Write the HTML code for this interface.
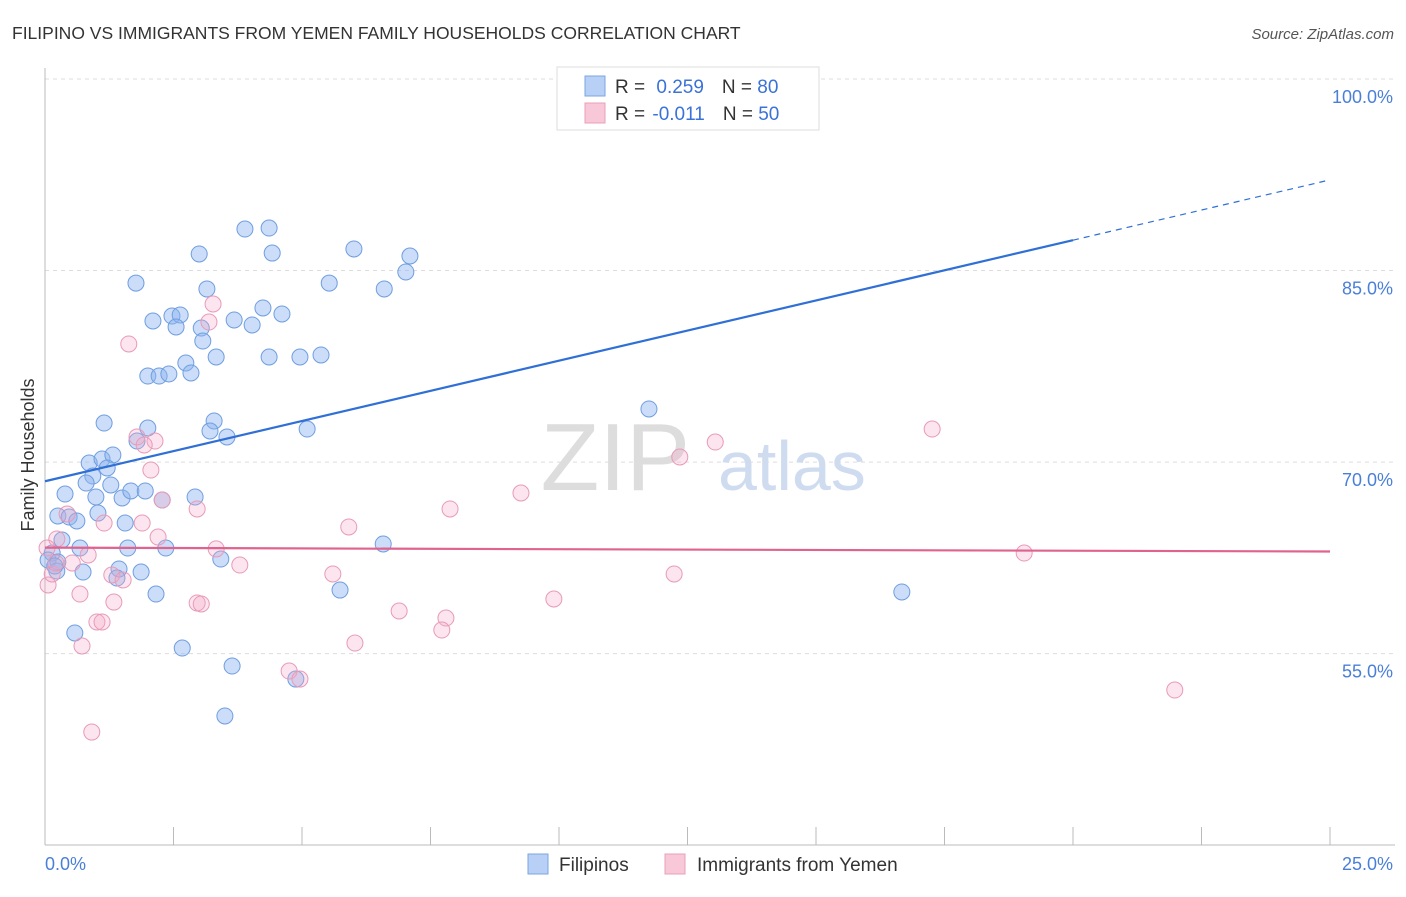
<!DOCTYPE html>
<html><head><meta charset="utf-8"><style>
body{margin:0;background:#fff;font-family:"Liberation Sans",sans-serif;}
svg text{font-family:"Liberation Sans",sans-serif;}
</style></head><body>
<svg id="chart" width="1406" height="892" viewBox="0 0 1406 892">
<text x="12" y="39" font-size="17.5" fill="#333">FILIPINO VS IMMIGRANTS FROM YEMEN FAMILY HOUSEHOLDS CORRELATION CHART</text>
<text x="1394" y="39" font-size="15" fill="#555" font-style="italic" text-anchor="end">Source: ZipAtlas.com</text>
<g id="grid"></g>
<text x="690" y="490" font-size="96" fill="#ddd" text-anchor="end" font-family="Liberation Serif">ZIP</text>
<text x="718" y="490" font-size="70" fill="#cfdcf0">atlas</text>
<g id="axes"></g>
<g id="pts"></g>
<g id="lines"></g>
<text transform="translate(34,455) rotate(-90)" font-size="18" fill="#333" text-anchor="middle">Family Households</text>
<text x="45" y="870" font-size="18" fill="#4a7fd8">0.0%</text>
<text x="1393" y="870" font-size="18" fill="#4a7fd8" text-anchor="end">25.0%</text>
<g>
<rect x="557" y="67" width="262" height="63" fill="#fff" stroke="#ddd"/>
<rect x="585" y="76" width="20" height="20" fill="#b8d0f5" stroke="#7aa6e0"/>
<rect x="585" y="103" width="20" height="20" fill="#f9c8d8" stroke="#e8a0ba"/>
<text x="615" y="93" font-size="19" fill="#333">R = <tspan fill="#3a72d8" dx="6">0.259</tspan><tspan dx="18" fill="#333">N = </tspan><tspan fill="#3a72d8">80</tspan></text>
<text x="615" y="120" font-size="19" fill="#333">R = <tspan fill="#3a72d8" dx="2">-0.011</tspan><tspan dx="18" fill="#333">N = </tspan><tspan fill="#3a72d8">50</tspan></text>
</g>
<g>
<rect x="528" y="854" width="20" height="20" fill="#b8d0f5" stroke="#7aa6e0"/>
<text x="559" y="871" font-size="19" fill="#333">Filipinos</text>
<rect x="665" y="854" width="20" height="20" fill="#f9c8d8" stroke="#e8a0ba"/>
<text x="697" y="871" font-size="19" fill="#333">Immigrants from Yemen</text>
</g>
</svg>
<script>
const yTicks=[100,85,70,55];
const yTickLabels=["100.0%","85.0%","70.0%","55.0%"];
const xTicks=[2.5,5,7.5,10,12.5,15,17.5,20,22.5,25];
const blueX=[3.89,4.36,3.00,4.42,6.01,7.10,1.77,5.53,3.15,6.60,7.02,4.24,4.61,2.10,2.47,2.63,2.55,3.04,3.68,4.03,3.07,3.33,4.36,4.96,5.37,2.74,2.00,2.22,2.41,2.84,1.15,2.00,3.29,3.21,3.54,5.10,1.79,11.75,0.86,1.11,1.32,1.21,0.93,0.80,1.28,0.39,0.99,1.50,1.67,1.95,2.28,2.92,0.25,0.47,0.62,1.03,1.56,0.33,0.68,1.61,2.35,0.14,0.06,0.25,0.23,0.74,0.19,3.42,1.44,1.87,1.40,2.16,5.74,6.58,16.67,0.58,2.67,3.64,4.88,3.50];
const blueY=[88.25,88.33,86.30,86.37,86.69,86.14,84.02,84.02,83.56,83.56,84.89,82.07,81.60,81.05,81.44,81.52,80.58,80.50,81.13,80.74,79.48,78.23,78.23,78.23,78.39,77.76,76.74,76.74,76.90,76.98,73.06,72.67,73.22,72.44,71.97,72.59,71.65,74.16,69.93,70.24,70.56,69.54,68.91,68.36,68.21,67.50,67.27,67.19,67.74,67.74,67.03,67.27,65.78,65.70,65.39,66.01,65.23,63.90,63.27,63.27,63.27,62.88,62.33,62.18,61.47,61.39,61.86,62.41,61.63,61.39,60.92,59.67,59.98,63.59,59.83,56.62,55.44,54.03,53.01,50.12];
const pinkX=[1.63,3.27,3.19,1.79,2.14,1.93,2.06,2.28,2.96,1.15,1.89,2.20,0.43,0.23,0.84,3.33,5.91,7.88,9.26,12.35,13.04,17.26,19.05,3.79,5.60,1.30,1.52,12.24,1.34,0.68,2.96,3.04,9.90,6.89,7.80,7.72,1.01,1.11,6.03,0.72,4.75,4.96,21.98,0.91,0.06,0.14,0.21,0.53,0.04];
const pinkY=[79.25,82.38,80.97,71.97,71.65,71.34,69.38,67.03,66.33,65.23,65.23,64.13,65.94,63.98,62.73,63.20,64.92,66.33,67.58,70.40,71.57,72.59,62.88,61.94,61.24,61.16,60.77,61.24,59.04,59.67,58.97,58.89,59.28,58.34,57.79,56.85,57.48,57.48,55.83,55.60,53.64,53.01,52.15,48.86,60.38,61.24,62.10,62.10,63.27];
const blueTrend=[68.5,92.1];
const blueSolidEnd=20;
const pinkTrend=[63.3,63.0];
const NS="http://www.w3.org/2000/svg";
const X=v=>45+v*51.4, Y=v=>79+(100-v)*12.77;
function mk(t,a,p){const e=document.createElementNS(NS,t);for(const k in a)e.setAttribute(k,a[k]);p.appendChild(e);return e;}
const grid=document.getElementById('grid'),axes=document.getElementById('axes'),pts=document.getElementById('pts'),lines=document.getElementById('lines');
yTicks.forEach((v,i)=>{
const l=mk('line',{x1:45,x2:1395,y1:Y(v),y2:Y(v),stroke:'#ddd','stroke-dasharray':'4,4'},grid);


const t=mk('text',{x:1393,y:Y(v)+24,'font-size':18,fill:'#4a7fd8','text-anchor':'end'},grid);
t.textContent=yTickLabels[i];


});
const ya=mk('line',{x1:45,x2:45,y1:68,y2:845,stroke:'#bbb'},axes);


const xa=mk('line',{x1:45,x2:1395,y1:845,y2:845,stroke:'#bbb'},axes);


xTicks.forEach(v=>{
const t=mk('line',{x1:X(v),x2:X(v),y1:827,y2:845,stroke:'#bbb'},axes);


});
blueX.forEach((v,i)=>{
const c=mk('circle',{cx:X(v),cy:Y(blueY[i]),r:8,fill:'rgba(140,180,240,0.45)',stroke:'#6f9ee0','stroke-width':1},pts);


});
pinkX.forEach((v,i)=>{
const c=mk('circle',{cx:X(v),cy:Y(pinkY[i]),r:8,fill:'rgba(245,170,200,0.3)',stroke:'#e89ab8','stroke-width':1},pts);


});
const by=x=>blueTrend[0]+(blueTrend[1]-blueTrend[0])*x/25;
const b1=mk('line',{x1:X(0),y1:Y(by(0)),x2:X(blueSolidEnd),y2:Y(by(blueSolidEnd)),stroke:'#2f6fd6','stroke-width':2.2},lines);


const b2=mk('line',{x1:X(blueSolidEnd),y1:Y(by(blueSolidEnd)),x2:X(25),y2:Y(by(25)),stroke:'#2f6fd6','stroke-width':1.2,'stroke-dasharray':'6,5'},lines);


const p1=mk('line',{x1:X(0),y1:Y(pinkTrend[0]),x2:X(25),y2:Y(pinkTrend[1]),stroke:'#e0628e','stroke-width':2.2},lines);


</script>
</body></html>
